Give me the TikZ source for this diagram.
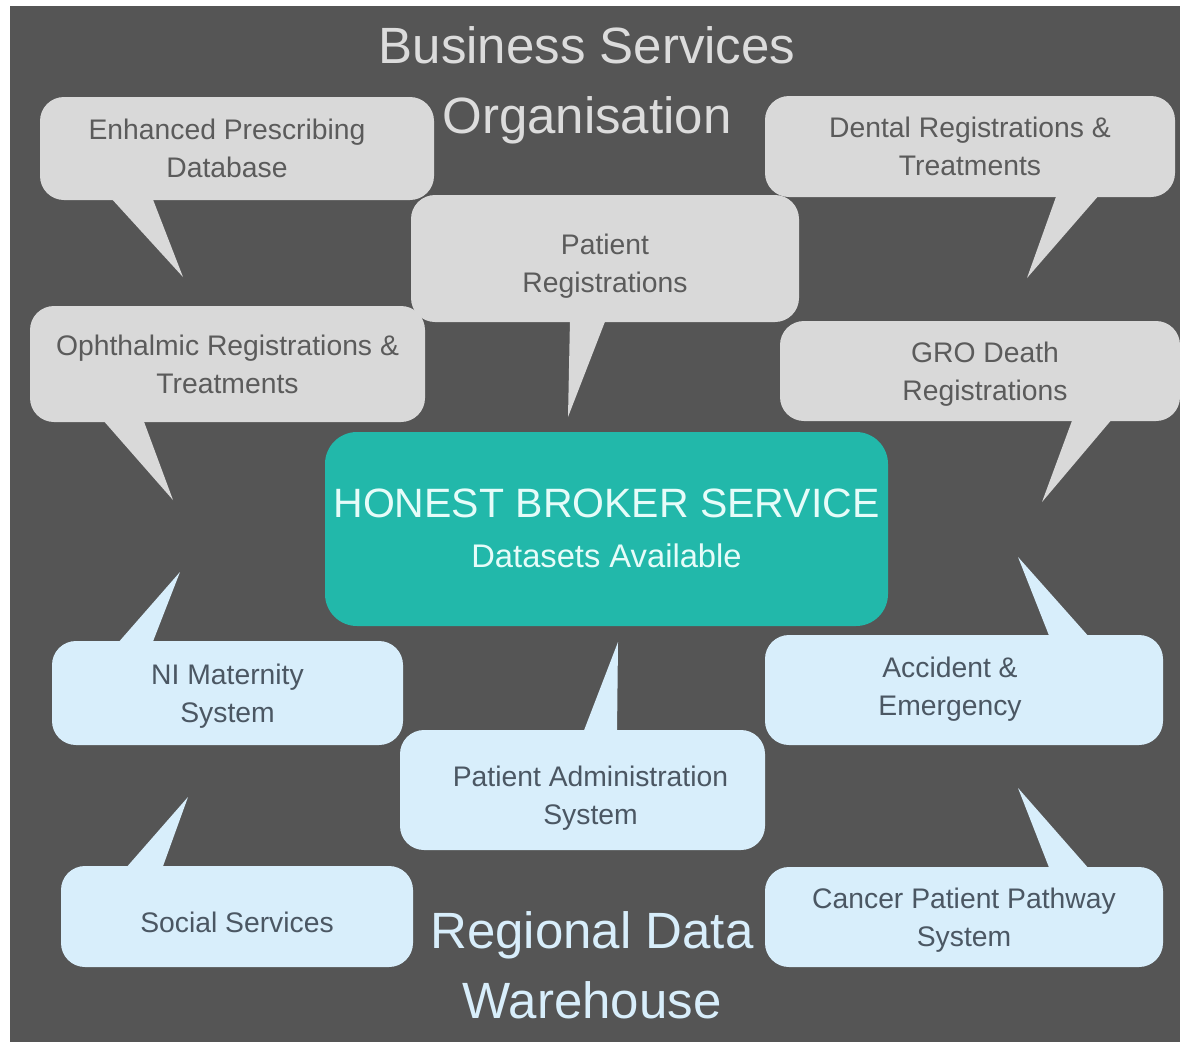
\documentclass[tikz,border=0pt]{standalone}
\usepackage{fontspec}
\setmainfont{Liberation Sans}
\definecolor{bgdark}{HTML}{555555}
\definecolor{gbubfill}{HTML}{D9D9D9}
\definecolor{gbubtext}{HTML}{5B5B5B}
\definecolor{bbubfill}{HTML}{D8EEFB}
\definecolor{bbubtext}{HTML}{4B5763}
\definecolor{hbteal}{HTML}{22B8AA}
\definecolor{hbtext}{HTML}{E6FCF9}
\definecolor{titlegrey}{HTML}{DCDCDC}
\definecolor{titleblue}{HTML}{D8EEFB}
\newcommand\mytop[1][27]{\rule{0pt}{#1pt}}
\newcommand\mybot{\rule[-6.8pt]{0pt}{6.8pt}}
\newcommand\ttop{\rule{0pt}{40pt}}
\newcommand\tbot{\rule[-12pt]{0pt}{12pt}}
\begin{document}
\begin{tikzpicture}[x=1pt,y=-1pt,
  bubble/.style={rounded corners=24pt, inner sep=0pt, align=center,
    font=\fontsize{28.3}{38}\selectfont},
  greybubble/.style={bubble, fill=gbubfill, text=gbubtext},
  bluebubble/.style={bubble, fill=bbubfill, text=bbubtext},
  greytail/.style={fill=gbubfill},
  bluetail/.style={fill=bbubfill},
  centrebox/.style={rounded corners=32pt, inner sep=0pt, align=center,
    fill=hbteal, text=hbtext, font=\fontsize{32.7}{50}\selectfont},
  titletext/.style={inner sep=0pt, align=center, font=\fontsize{51}{70}\selectfont}]
\useasboundingbox (0,0) rectangle (1180,1042);
\fill[white] (0,0) rectangle (1180,1042);
\fill[bgdark] (10,6) rectangle (1180,1042);

% titles
\node[titletext, text=titlegrey] (bso) at (587,84) {\ttop Business Services\\Organisation\tbot};
\node[titletext, text=titleblue] (rdw) at (592,969) {\ttop Regional Data\\Warehouse\tbot};

% tails
\fill[greytail] (110,197) -- (183,277) -- (152,197) -- cycle;
\fill[greytail] (1057,194) -- (1027,278) -- (1100,194) -- cycle;
\fill[greytail] (570,319) -- (568,417) -- (606,319) -- cycle;
\fill[greytail] (102,419) -- (173,500) -- (143,419) -- cycle;
\fill[greytail] (1073,418) -- (1042,502) -- (1113,418) -- cycle;
\fill[bluetail] (117,644) -- (180,572) -- (152,644) -- cycle;
\fill[bluetail] (1050,638) -- (1018,557) -- (1090,638) -- cycle;
\fill[bluetail] (583,733) -- (618,642) -- (617,733) -- cycle;
\fill[bluetail] (125,869) -- (188,797) -- (162,869) -- cycle;
\fill[bluetail] (1050,870) -- (1018,788) -- (1090,870) -- cycle;

% grey bubbles
\node[greybubble, minimum width=394pt, minimum height=103pt] (epd) at (237,148.5)
  {\mytop Enhanced Prescribing\hspace*{20pt}\\Database\hspace*{20pt}\mybot};
\node[greybubble, minimum width=410pt, minimum height=101pt] (dental) at (970,146.5)
  {\mytop Dental Registrations \&\\Treatments\mybot};
\node[greybubble, minimum width=388pt, minimum height=127pt] (patreg) at (605,258.5)
  {\mytop[37]Patient\\Registrations\mybot};
\node[greybubble, minimum width=395pt, minimum height=116pt] (ophth) at (227.5,364)
  {\mytop Ophthalmic Registrations \&\\Treatments\mybot};
\node[greybubble, minimum width=400pt, minimum height=100pt] (gro) at (980,371)
  {\mytop\hspace*{10pt}GRO Death\\\hspace*{10pt}Registrations\mybot};

% central box
\node[centrebox, minimum width=563pt, minimum height=194pt] (hbs) at (606.5,529)
  {\rule{0pt}{35pt}{\fontsize{41}{50}\selectfont HONEST BROKER SERVICE}\\Datasets Available\rule[-8pt]{0pt}{8pt}};

% blue bubbles
\node[bluebubble, minimum width=351pt, minimum height=104pt] (nimat) at (227.5,693)
  {\mytop NI Maternity\\System\mybot};
\node[bluebubble, minimum width=398pt, minimum height=110pt] (ae) at (964,690)
  {\mytop[20]Accident \&\hspace*{28pt}\\Emergency\hspace*{28pt}\mybot};
\node[bluebubble, minimum width=365pt, minimum height=120pt] (pas) at (582.5,790)
  {\mytop[37]\hspace*{16pt}Patient Administration\\\hspace*{16pt}System\mybot};
\node[bluebubble, minimum width=352pt, minimum height=101pt] (social) at (237,916.5)
  {\mytop[39]Social Services\mybot};
\node[bluebubble, minimum width=398pt, minimum height=100pt] (cancer) at (964,917)
  {\mytop Cancer Patient Pathway\\System\mybot};
\end{tikzpicture}
\end{document}
